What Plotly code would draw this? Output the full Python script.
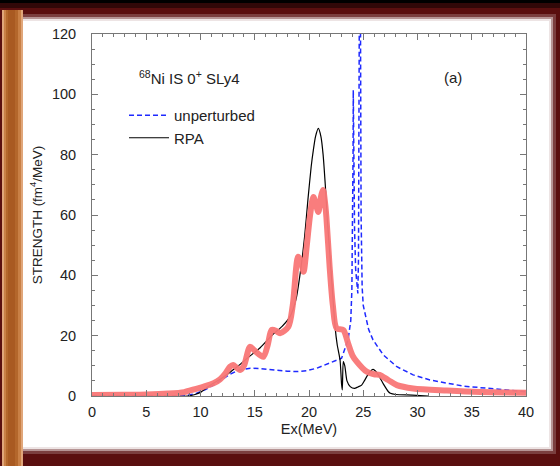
import plotly.graph_objects as go

# ---------------- data ----------------
unp_E = [0, 8.5, 9.65, 10.5, 11.2, 12.0, 12.7, 13.5, 14.6, 15.5, 16.7, 18.0, 18.9, 19.8, 20.7, 21.9, 23.0,
         23.6, 23.85, 23.95, 24.02, 24.06, 24.08, 24.12, 24.2, 24.3, 24.4, 24.5, 24.56, 24.6, 24.64, 24.68,
         24.74, 24.8, 24.9, 25.0, 25.5, 25.9, 26.85, 28.1, 29.6, 31.15, 34.2, 37.3, 40.0]
unp_S = [0, 0, 0.9, 2.2, 3.6, 5.5, 7.2, 8.5, 9.2, 9.1, 8.6, 8.2, 8.1, 8.4, 9.2, 10.8, 12.5,
         18.6, 25, 35, 55, 80, 101.4, 80, 55, 42, 36, 34, 45, 70, 130, 200,
         130, 60, 36, 30, 22, 18.6, 13.6, 9.7, 7.0, 5.3, 3.3, 2.2, 1.4]

rpa_E = [0, 8.8, 9.5, 10.0, 10.9, 12.0, 12.7, 13.5, 14.3, 15.5, 16.7, 17.5, 18.25, 18.8, 19.2, 19.6, 19.9,
         20.2, 20.4, 20.6, 20.86, 21.1, 21.3, 21.5, 21.7, 21.9, 22.2, 22.4, 22.6, 22.86, 23.0, 23.07, 23.16,
         23.3, 23.5, 23.8, 24.2, 24.5, 24.85, 25.1, 25.5, 25.9, 26.3, 26.85, 27.3, 27.5, 28.0, 29.5, 31.0]
rpa_S = [0, 0, 0.5, 1.2, 3.6, 6.0, 7.8, 10.0, 12.5, 16.0, 20.5, 23.0, 26.3, 32.0, 41.0, 53.0, 65.0,
         76.0, 81.5, 86.0, 88.7, 86.0, 80.0, 70.0, 58.0, 48.0, 33.0, 23.0, 17.0, 12.0, 4.0, 2.0, 11.4,
         10.0, 5.0, 3.1, 2.5, 3.0, 3.6, 5.0, 7.5, 8.8, 7.5, 4.0, 1.5, 0.9, 0.5, 0.3, 0.0]

smear_E = [0, 3, 5, 7, 8.5, 9.5, 10.3, 11.2, 11.8, 12.3, 12.72, 13.0, 13.64, 14.0, 14.56, 15.0, 15.79, 16.2,
           16.56, 17.0, 17.33, 18.1, 18.5, 19.0, 19.3, 19.5, 19.8, 20.1, 20.4, 20.6, 20.86, 21.1, 21.3, 21.45,
           21.6, 21.9, 22.2, 22.55, 23.16, 23.6, 24.0, 24.4, 25.3, 26.0, 26.5, 27.3, 28.1, 29.6, 32.7, 35.8, 40.0]
smear_S = [0.3, 0.4, 0.5, 0.8, 1.3, 2.3, 3.1, 4.2, 5.5, 7.5, 9.7, 10.3, 8.6, 10.0, 16.3, 15.0, 13.0, 17.0,
           21.9, 21.5, 20.8, 23.0, 30.0, 46.2, 44.0, 41.2, 50.0, 60.0, 66.0, 64.0, 61.0, 66.0, 68.3, 65.0,
           59.4, 42.9, 30.0, 22.4, 21.9, 17.5, 13.5, 11.4, 8.1, 7.2, 7.0, 5.3, 3.6, 2.5, 1.8, 1.3, 1.1]

x_ticks = [0, 5, 10, 15, 20, 25, 30, 35, 40]
y_ticks = [0, 20, 40, 60, 80, 100, 120]

# ---------------- figure ----------------
FONT = "Liberation Sans, Arial, sans-serif"
W, H = 560, 466
L, R, T, B = 92, 34, 34, 70
PW, PH = W - L - R, H - T - B


def px(x):
    return (x - L) / PW


def py(y):
    return (H - B - y) / PH


fig = go.Figure()

fig.add_trace(go.Scatter(x=unp_E, y=unp_S, mode="lines", name="unperturbed",
                         line=dict(color="#1f2aff", width=1.5, dash="5px,3px")))
fig.add_trace(go.Scatter(x=rpa_E, y=rpa_S, mode="lines", name="RPA",
                         line=dict(color="black", width=1.2, shape="spline", smoothing=0.6)))
fig.add_trace(go.Scatter(x=smear_E, y=smear_S, mode="lines", name="smeared", showlegend=False,
                         line=dict(color="#f97777", width=6, shape="spline", smoothing=0.8), opacity=0.95))

shapes = []
# dark top band
shapes.append(dict(type="rect", xref="paper", yref="paper", x0=px(0), x1=px(W), y0=py(0), y1=py(3),
                   fillcolor="black", line_width=0, layer="below"))
shapes.append(dict(type="rect", xref="paper", yref="paper", x0=px(0), x1=px(W), y0=py(3), y1=py(8),
                   fillcolor="black", opacity=0.45, line_width=0, layer="below"))
# white panel with soft edges
for (a, op) in [(7, 0.2), (4, 0.45), (2, 0.75), (0, 1.0)]:
    shapes.append(dict(type="rect", xref="paper", yref="paper",
                       x0=px(18 - a), x1=px(549 + a), y0=py(447 + a), y1=py(21 - a),
                       fillcolor="white", opacity=op, line_width=0, layer="below"))
# orange bar on left
for (x0, x1, c) in [(2, 23, "#e0a67a"), (4, 21, "#c98046"), (6, 18, "#b4672c"), (8, 15, "#a95a22")]:
    shapes.append(dict(type="rect", xref="paper", yref="paper", x0=px(x0), x1=px(x1),
                       y0=py(H), y1=py(10), fillcolor=c, line_width=0, layer="below"))

fig.update_layout(
    width=W, height=H,
    margin=dict(l=L, r=R, t=T, b=B, pad=0),
    paper_bgcolor="#5a0f0f",
    plot_bgcolor="white",
    font=dict(family=FONT, size=14, color="#222"),
    shapes=shapes,
    showlegend=True,
    legend=dict(x=px(124), y=py(99), xanchor="left", yanchor="top", bgcolor="rgba(0,0,0,0)",
                font=dict(family=FONT, size=15, color="#222"), itemwidth=40, tracegroupgap=0),
    annotations=[
        dict(text="<sup>68</sup>Ni IS 0<sup>+</sup> SLy4", xref="paper", yref="paper",
             x=px(137), y=py(77), xanchor="left", yanchor="middle", showarrow=False,
             font=dict(family=FONT, size=15, color="#222")),
        dict(text="(a)", xref="paper", yref="paper", x=px(464), y=py(77), xanchor="right",
             yanchor="middle", showarrow=False, font=dict(family=FONT, size=15, color="#222")),
    ],
)

fig.update_xaxes(range=[0, 40], tickvals=x_ticks, ticktext=[str(v) for v in x_ticks],
                 ticks="inside", ticklen=6, tickcolor="#777", showline=True, linecolor="#777",
                 linewidth=1, mirror="ticks", showgrid=False, zeroline=False,
                 minor=dict(dtick=1, ticks="inside", ticklen=3, tickcolor="#777"),
                 ticklabelstandoff=3,
                 tickfont=dict(size=14.5, color="#222"),
                 title=dict(text="Ex(MeV)", font=dict(size=14.5, color="#222"), standoff=4))
fig.update_yaxes(range=[0, 120], tickvals=y_ticks, ticktext=[str(v) for v in y_ticks],
                 ticks="inside", ticklen=6, tickcolor="#777", showline=True, linecolor="#777",
                 linewidth=1, mirror="ticks", showgrid=False, zeroline=False,
                 minor=dict(dtick=5, ticks="inside", ticklen=3, tickcolor="#777"),
                 ticklabelstandoff=12,
                 tickfont=dict(size=14.5, color="#222"),
                 title=dict(text="STRENGTH (fm<sup>4</sup>/MeV)", font=dict(size=13.5, color="#222"),
                            standoff=6))

fig.write_html("out.html")
